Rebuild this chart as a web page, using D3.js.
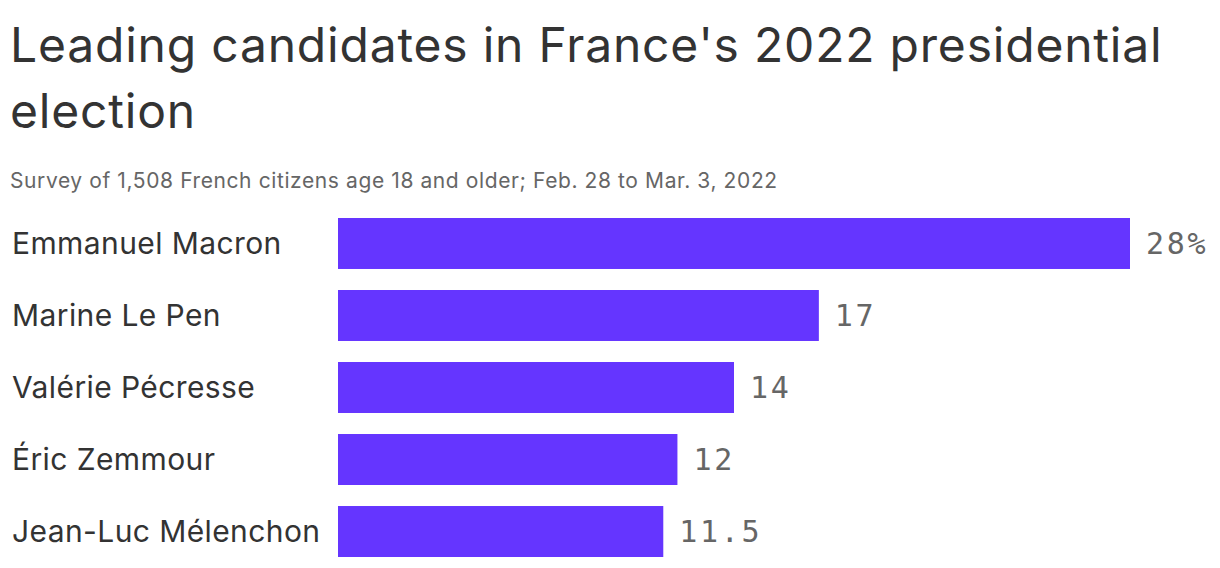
<!DOCTYPE html>
<html>
<head>
<meta charset="utf-8">
<script src="https://cdn.jsdelivr.net/npm/d3@7"></script>
<style>
  body { margin: 0; background: #fff; }
  svg { display: block; }
</style>
</head>
<body>
<div id="chart"></div>
<script>
const candidates = ["Emmanuel Macron", "Marine Le Pen", "Valérie Pécresse", "Éric Zemmour", "Jean-Luc Mélenchon"];
const shares = [28, 17, 14, 12, 11.5];
const valueLabels = ["28%", "17", "14", "12", "11.5"];

const titleLines = ["Leading candidates in France's 2022 presidential", "election"];
const subtitle = "Survey of 1,508 French citizens age 18 and older; Feb. 28 to Mar. 3, 2022";

const width = 1220;
const height = 568;
const sans = "Inter, 'Noto Sans', sans-serif";
const mono = "'DejaVu Sans Mono', 'Liberation Mono', monospace";

const svg = d3.select("#chart")
  .append("svg")
  .attr("width", width)
  .attr("height", height);

svg.append("g")
  .selectAll("text")
  .data(titleLines)
  .enter().append("text")
  .attr("x", 10)
  .attr("y", (d, i) => 62 + i * 66)
  .attr("font-family", sans)
  .attr("font-size", 48)
  .attr("letter-spacing", 0.8)
  .attr("fill", "#333")
  .text(d => d);

svg.append("text")
  .attr("x", 10)
  .attr("y", 188)
  .attr("font-family", sans)
  .attr("font-size", 21)
  .attr("letter-spacing", 0.6)
  .attr("fill", "#666")
  .text(subtitle);

const x = d3.scaleLinear()
  .domain([0, 28])
  .range([338, 1130]);

const y = d3.scaleBand()
  .domain(candidates)
  .range([218, 557])
  .paddingInner(0.292)
  .paddingOuter(0);

const rows = svg.append("g")
  .selectAll("g")
  .data(candidates)
  .enter().append("g");

rows.append("rect")
  .attr("x", x(0))
  .attr("y", d => y(d))
  .attr("width", (d, i) => x(shares[i]) - x(0))
  .attr("height", y.bandwidth())
  .attr("fill", "#6535ff");

rows.append("text")
  .attr("x", 12)
  .attr("y", d => y(d) + y.bandwidth() / 2)
  .attr("dy", "0.35em")
  .attr("font-family", sans)
  .attr("font-size", 30)
  .attr("letter-spacing", 0.4)
  .attr("fill", "#333")
  .text(d => d);

rows.append("text")
  .attr("x", (d, i) => x(shares[i]) + 16)
  .attr("y", d => y(d) + y.bandwidth() / 2)
  .attr("dy", "0.35em")
  .attr("font-family", mono)
  .attr("font-size", 30)
  .attr("letter-spacing", 2.7)
  .attr("fill", "#666")
  .text((d, i) => valueLabels[i]);
</script>
</body>
</html>
